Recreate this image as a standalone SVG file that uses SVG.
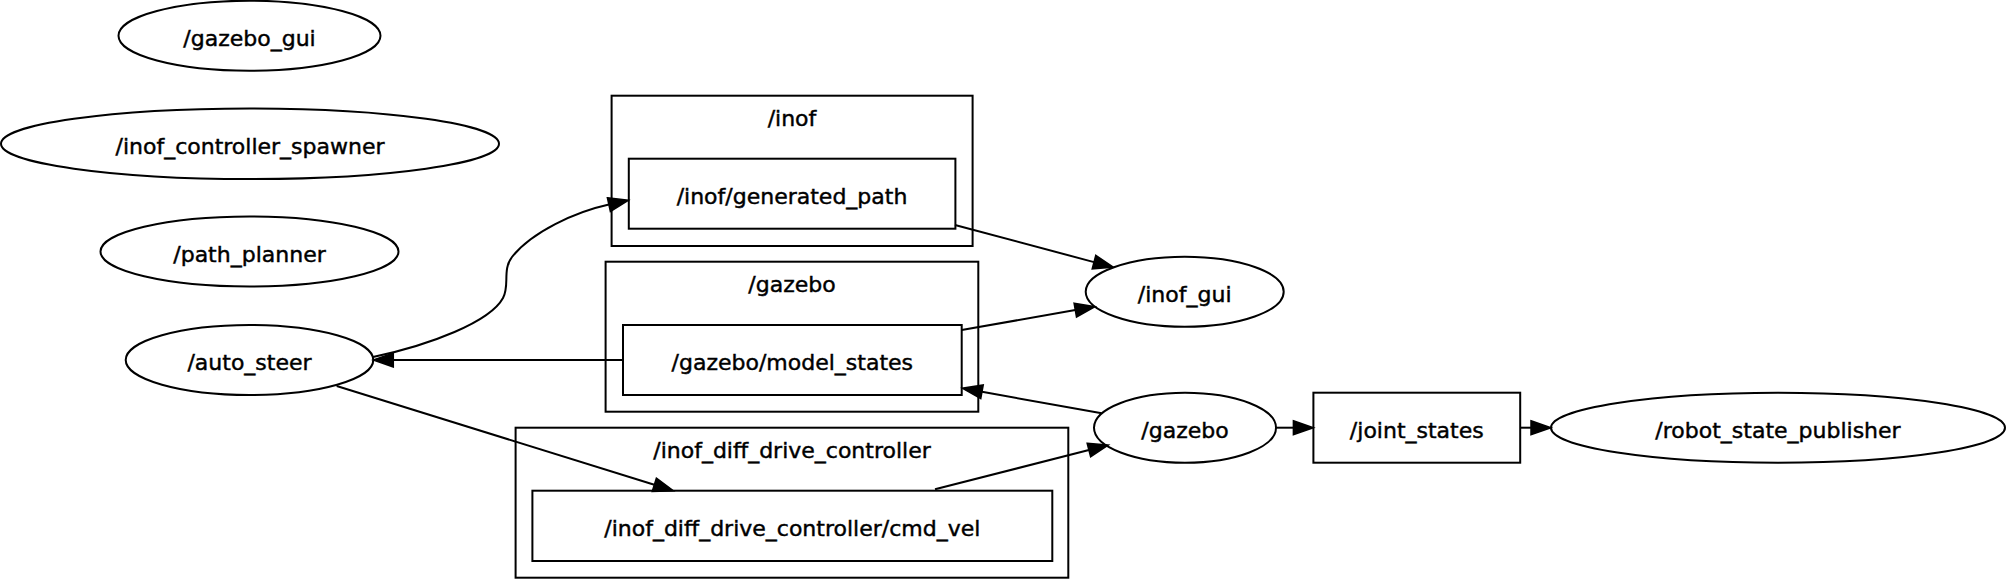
<svg xmlns="http://www.w3.org/2000/svg" width="2007" height="579" viewBox="0 0 2007 579">
<style>
.n{fill:none;stroke:#000;stroke-width:2}
.c{fill:none;stroke:#000;stroke-width:2}
.e{fill:none;stroke:#000;stroke-width:2;marker-end:url(#ah)}
text{font-family:"DejaVu Sans","Liberation Sans",sans-serif;font-size:22px;text-anchor:middle;fill:#000;stroke:#000;stroke-width:0.45}
</style>
<defs>
<marker id="ah" viewBox="0 0 20 14" refX="0" refY="7" markerWidth="20" markerHeight="14" markerUnits="userSpaceOnUse" orient="auto" overflow="visible">
<path d="M0,0 L20,7 L0,14 z" fill="#000" stroke="#000" stroke-width="1.5"/>
</marker>
</defs>
<rect width="2007" height="579" fill="#fff"/>
<g id="cluster_inof"><rect class="c" x="611.6" y="95.7" width="361" height="150.3"/><text x="792" y="126">/inof</text></g>
<g id="cluster_gazebo"><rect class="c" x="605.6" y="261.7" width="372.7" height="150"/><text x="792" y="292">/gazebo</text></g>
<g id="cluster_inof_diff_drive_controller"><rect class="c" x="515.6" y="427.7" width="552.7" height="150"/><text x="792" y="458">/inof_diff_drive_controller</text></g>
<g id="connectors">
<path class="e" d="M373,357 C430,345 490,322 503,298 C510,285 502,270 512,257 C532,232 575,212 608.9,204.6"/>
<path class="e" d="M955,225 L1094,262.1"/>
<path class="e" d="M961.7,330 L1075.3,310.1"/>
<path class="e" d="M623,360 L393.3,360"/>
<path class="e" d="M336.7,386 L654.3,484.8"/>
<path class="e" d="M935,489.3 L1088.9,450"/>
<path class="e" d="M1101.7,413.3 L982,391.8"/>
<path class="e" d="M1276,427.7 L1293.4,427.7"/>
<path class="e" d="M1520.2,427.7 L1531,427.7"/>
</g>
<g id="gazebo_gui"><ellipse class="n" cx="249.5" cy="35.7" rx="131" ry="35"/><text x="249.5" y="46">/gazebo_gui</text></g>
<g id="inof_controller_spawner"><ellipse class="n" cx="250" cy="143.7" rx="249" ry="35.3"/><text x="250" y="154">/inof_controller_spawner</text></g>
<g id="path_planner"><ellipse class="n" cx="249.5" cy="251.5" rx="149" ry="35"/><text x="249.5" y="261.8">/path_planner</text></g>
<g id="auto_steer"><ellipse class="n" cx="249.5" cy="360" rx="123.8" ry="35"/><text x="249.5" y="370.3">/auto_steer</text></g>
<g id="inof_generated_path"><rect class="n" x="628.8" y="158.7" width="326.6" height="70"/><text x="792" y="204">/inof/generated_path</text></g>
<g id="gazebo_model_states"><rect class="n" x="623" y="325" width="338.7" height="70"/><text x="792.3" y="370.3">/gazebo/model_states</text></g>
<g id="inof_diff_drive_controller_cmd_vel"><rect class="n" x="532.4" y="490.7" width="519.9" height="70.3"/><text x="792.3" y="536.2">/inof_diff_drive_controller/cmd_vel</text></g>
<g id="inof_gui"><ellipse class="n" cx="1184.7" cy="291.7" rx="99" ry="35"/><text x="1184.7" y="302">/inof_gui</text></g>
<g id="gazebo"><ellipse class="n" cx="1185" cy="427.7" rx="91" ry="35"/><text x="1185" y="438">/gazebo</text></g>
<g id="joint_states"><rect class="n" x="1313.4" y="392.7" width="206.8" height="70"/><text x="1416.8" y="438">/joint_states</text></g>
<g id="robot_state_publisher"><ellipse class="n" cx="1778" cy="427.7" rx="227" ry="35"/><text x="1778" y="438">/robot_state_publisher</text></g>
</svg>
